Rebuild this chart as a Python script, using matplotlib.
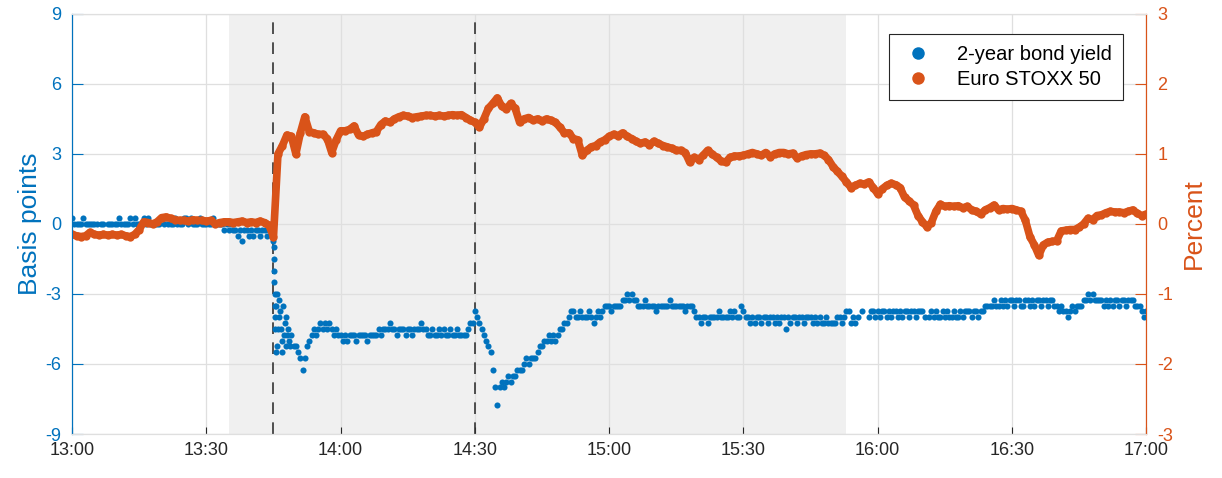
import numpy as np
import matplotlib
matplotlib.use("Agg")
import matplotlib.pyplot as plt
from matplotlib.lines import Line2D

plt.rcParams['font.family'] = ['Liberation Sans', 'DejaVu Sans']
plt.rcParams['axes.unicode_minus'] = False

# x axis: minutes after 13:00
tick_minutes = [0, 30, 60, 90, 120, 150, 180, 210, 240]
tick_labels = ["13:00", "13:30", "14:00", "14:30", "15:00", "15:30", "16:00", "16:30", "17:00"]
shade_start, shade_end = 35, 173
event_minutes = [45, 90]

nan = np.nan
# 2-year bond yield change, basis points, every 30 seconds from 13:00 to 17:00
bond_bp = [
    0.25, 0, 0, 0, 0, 0.25, 0, 0, 0, 0,                                   # 13:00
    0, 0, nan, 0, 0, nan, 0, 0, 0, 0,                                     # 13:05
    0, 0.25, 0, 0, 0, 0, 0.25, 0, 0.25, 0,                                # 13:10
    0, 0, 0.25, 0, 0.25, 0, 0, 0, 0, 0,                                   # 13:15
    0.25, 0, 0.25, 0, 0, 0, 0.25, 0, 0, 0,                                # 13:20
    0.25, 0.25, 0, 0.25, 0, 0, 0, 0.25, 0, 0,                             # 13:25
    0, 0, 0, 0.25, 0, 0, 0, 0, -0.25, 0,                                  # 13:30
    -0.25, 0, -0.25, -0.25, -0.5, -0.25, -0.75, -0.25, -0.25, -0.5,       # 13:35
    -0.25, -0.5, -0.25, -0.25, -0.5, -0.25, -0.25, -0.5, -0.25, -0.25,    # 13:40
    -0.75, -3.5, -4.5, -3.75, -5.0, -4.25, -4.75, -5.0, -4.75, -5.25,     # 13:45
    -5.25, -5.5, -5.75, -6.25, -5.75, -5.25, -5.0, -4.75, -4.5, -4.75,    # 13:50
    -4.5, -4.25, -4.5, -4.25, -4.5, -4.25, -4.5, -4.75, -4.5, -4.75,      # 13:55
    -4.75, -5.0, -4.75, -5.0, -4.75, -4.75, -4.75, -5.0, -4.75, -4.75,    # 14:00
    -4.75, -4.75, -5.0, -4.75, -4.75, -4.75, -4.75, -4.5, -4.75, -4.5,    # 14:05
    -4.5, -4.5, -4.25, -4.5, -4.5, -4.75, -4.5, -4.5, -4.5, -4.75,        # 14:10
    -4.5, -4.5, -4.75, -4.5, -4.5, -4.5, -4.25, -4.5, -4.5, -4.75,        # 14:15
    -4.75, -4.5, -4.75, -4.75, -4.5, -4.75, -4.5, -4.75, -4.75, -4.5,     # 14:20
    -4.75, -4.75, -4.5, -4.75, -4.75, -4.75, -4.75, -4.5, -4.25, -4.25,   # 14:25
    -3.75, -4.0, -4.25, -4.5, -4.75, -5.0, -5.25, -5.5, -6.25, -7.0,      # 14:30
    -7.75, -7.0, -6.75, -7.0, -6.75, -6.5, -6.75, -6.5, -6.5, -6.25,      # 14:35
    -6.25, -6.25, -6.0, -5.75, -6.0, -5.75, -5.75, -5.75, -5.5, -5.25,    # 14:40
    -5.25, -5.0, -5.0, -4.75, -5.0, -4.75, -5.0, -4.75, -4.5, -4.5,       # 14:45
    -4.25, -4.25, -4.0, -3.75, -3.75, -4.0, -4.0, -3.75, -4.0, -4.0,      # 14:50
    -4.0, -3.75, -4.0, -4.25, -4.0, -3.75, -4.0, -3.75, -3.5, -3.5,       # 14:55
    -3.5, -3.75, -3.5, -3.5, -3.5, -3.5, -3.25, -3.25, -3.0, -3.25,       # 15:00
    -3.0, -3.25, -3.25, -3.5, -3.5, -3.5, -3.25, -3.5, -3.5, -3.5,        # 15:05
    -3.5, -3.75, -3.5, -3.5, -3.5, -3.5, -3.5, -3.25, -3.5, -3.5,         # 15:10
    -3.5, -3.5, -3.5, -3.5, -3.75, -3.5, -3.5, -3.5, -3.75, -4.0,         # 15:15
    -4.0, -4.25, -4.0, -4.0, -4.25, -4.0, -4.0, -4.0, -4.0, -3.75,        # 15:20
    -4.0, -4.0, -4.0, -4.0, -3.75, -4.0, -3.75, -4.0, -4.0, -3.5,         # 15:25
    -3.75, -4.0, -4.0, -4.25, -4.0, -4.25, -4.0, -4.0, -4.25, -4.0,       # 15:30
    -4.0, -4.25, -4.0, -4.0, -4.25, -4.0, -4.25, -4.0, -4.0, -4.5,        # 15:35
    -4.0, -4.25, -4.0, -4.0, -4.25, -4.0, -4.0, -4.25, -4.0, -4.0,        # 15:40
    -4.0, -4.25, -4.0, -4.25, -4.0, -4.25, -4.25, -4.0, -4.25, -4.25,     # 15:45
    -4.25, -4.25, -4.0, -4.0, -4.25, -4.0, -3.75, -3.75, -4.25, -4.0,     # 15:50
    -4.25, -4.0, nan, -3.75, nan, nan, -4.0, -3.75, -3.75, -4.0,          # 15:55
    -3.75, -4.0, -3.75, -3.75, -4.0, -3.75, -4.0, -3.75, -3.75, -4.0,     # 16:00
    -3.75, -4.0, -3.75, -3.75, -4.0, -3.75, -3.75, -4.0, -3.75, -3.75,    # 16:05
    -3.75, -4.0, nan, -4.0, -3.75, -4.0, -3.75, -4.0, -4.0, -3.75,        # 16:10
    -4.0, -3.75, -4.0, -4.0, -3.75, -4.0, -4.0, -3.75, -4.0, -3.75,       # 16:15
    -3.75, -3.75, -4.0, -3.75, -3.75, -4.0, -3.75, -3.75, -3.5, -3.5,     # 16:20
    -3.5, -3.5, -3.25, -3.5, -3.5, -3.25, -3.5, -3.25, -3.5, -3.25,       # 16:25
    -3.25, -3.5, -3.25, -3.25, -3.5, -3.5, -3.25, -3.25, -3.5, -3.25,     # 16:30
    -3.5, -3.25, -3.25, -3.5, -3.25, -3.25, -3.5, -3.25, -3.25, -3.5,     # 16:35
    -3.5, -3.75, -3.5, -3.75, -3.75, -4.0, -3.75, -3.5, -3.75, -3.5,      # 16:40
    -3.5, -3.5, -3.25, -3.25, -3.0, -3.25, -3.0, -3.25, -3.25, -3.25,     # 16:45
    -3.25, -3.5, -3.25, -3.5, -3.25, -3.5, -3.25, -3.25, -3.5, -3.25,     # 16:50
    -3.25, -3.5, -3.25, -3.25, -3.25, -3.5, -3.5, -3.5, -3.75, -4.0,      # 16:55
    -3.75,                                                                # 17:00
]
bond_min = np.arange(len(bond_bp)) * 0.5

# extra quotes during the fast move right after 13:45
burst_min = [45.05, 45.1, 45.15, 45.2, 45.25, 45.3, 45.35, 45.4, 45.45, 45.7, 45.8,
             46.2, 46.3, 46.7, 46.8, 47.2, 47.3, 47.7, 47.8, 48.2, 48.7]
burst_bp = [-1.0, -1.5, -2.0, -2.5, -3.0, -3.5, -4.0, -4.5, -5.5, -3.0, -5.25,
            -3.25, -4.0, -4.5, -5.5, -3.5, -4.75, -4.0, -5.25, -4.5, -5.25]

# Euro STOXX 50 change, percent, every minute from 13:00 to 17:00
stoxx_pct = [
    -0.15, -0.17, -0.18, -0.17, -0.12, -0.15, -0.16, -0.15, -0.16, -0.15,   # 13:00
    -0.16, -0.15, -0.17, -0.18, -0.15, -0.08, 0.03, 0.02, 0.00, 0.03,       # 13:10
    0.09, 0.10, 0.08, 0.06, 0.05, 0.05, 0.04, 0.06, 0.05, 0.05,             # 13:20
    0.04, 0.05, 0.00, 0.02, 0.03, 0.03, 0.02, 0.03, 0.04, 0.02,             # 13:30
    0.03, 0.02, 0.04, 0.02, -0.02, -0.18, 1.00, 1.12, 1.27, 1.25,           # 13:40
    1.00, 1.30, 1.53, 1.32, 1.30, 1.28, 1.28, 1.22, 1.02, 1.20,             # 13:50
    1.33, 1.33, 1.35, 1.40, 1.27, 1.25, 1.28, 1.30, 1.32, 1.42,             # 14:00
    1.47, 1.45, 1.50, 1.53, 1.55, 1.54, 1.52, 1.53, 1.54, 1.55,             # 14:10
    1.55, 1.54, 1.55, 1.54, 1.55, 1.56, 1.55, 1.56, 1.52, 1.48,             # 14:20
    1.45, 1.38, 1.50, 1.65, 1.72, 1.80, 1.68, 1.64, 1.72, 1.65,             # 14:30
    1.45, 1.50, 1.52, 1.48, 1.50, 1.47, 1.50, 1.48, 1.45, 1.38,             # 14:40
    1.30, 1.30, 1.22, 1.20, 0.98, 1.05, 1.10, 1.12, 1.17, 1.20,             # 14:50
    1.25, 1.28, 1.26, 1.30, 1.25, 1.22, 1.18, 1.15, 1.17, 1.13,             # 15:00
    1.18, 1.15, 1.12, 1.10, 1.08, 1.05, 1.05, 1.02, 0.88, 0.95,             # 15:10
    0.92, 0.98, 1.05, 1.00, 0.95, 0.90, 0.88, 0.95, 0.97, 0.97,             # 15:20
    0.98, 1.00, 1.02, 1.00, 0.98, 1.02, 0.96, 1.00, 1.02, 1.02,             # 15:30
    1.00, 1.01, 0.94, 0.97, 0.99, 1.00, 1.00, 1.01, 0.98, 0.92,             # 15:40
    0.82, 0.75, 0.68, 0.60, 0.52, 0.55, 0.58, 0.57, 0.60, 0.52,             # 15:50
    0.43, 0.50, 0.55, 0.58, 0.56, 0.52, 0.38, 0.33, 0.27, 0.12,             # 16:00
    0.03, -0.04, 0.02, 0.18, 0.28, 0.25, 0.26, 0.25, 0.26, 0.23,            # 16:10
    0.25, 0.20, 0.18, 0.14, 0.20, 0.23, 0.27, 0.20, 0.22, 0.21,             # 16:20
    0.22, 0.20, 0.18, 0.05, -0.18, -0.30, -0.45, -0.30, -0.26, -0.25,       # 16:30
    -0.24, -0.10, -0.09, -0.08, -0.08, -0.05, 0.00, 0.08, 0.06, 0.12,       # 16:40
    0.13, 0.16, 0.18, 0.17, 0.17, 0.16, 0.18, 0.20, 0.15, 0.12,             # 16:50
    0.14,                                                                   # 17:00
]
stoxx_min = np.arange(len(stoxx_pct))

blue = "#0072BD"
orange = "#D95319"
grid_col = "#DFDFDF"
text_col = "#262626"

fig = plt.figure(figsize=(12.22, 4.78), dpi=100)
ax = fig.add_axes([0.059, 0.092, 0.879, 0.879])
ax2 = ax.twinx()

ax.axvspan(shade_start, shade_end, color="#F0F0F0", zorder=0, lw=0)
for m in event_minutes:
    ax.axvline(m, color="#333333", ls=(0, (7, 5)), lw=1.2, zorder=1)

ax.plot(bond_min, bond_bp, ls="none", marker="o", ms=4.4, color=blue, mew=0, zorder=3)
ax.plot(burst_min, burst_bp, ls="none", marker="o", ms=4.4, color=blue, mew=0, zorder=3)
ax2.plot(stoxx_min, stoxx_pct, color=orange, lw=5.5, marker="o", ms=6, mew=0,
         solid_joinstyle="round", solid_capstyle="round")

ax.set_xlim(0, 240)
ax.set_ylim(-9, 9)
ax2.set_ylim(-3, 3)
ax.set_xticks(tick_minutes)
ax.set_xticklabels(tick_labels)
ax.set_yticks(np.arange(-9, 10, 3))
ax2.set_yticks(np.arange(-3, 4, 1))

ax.grid(True, color=grid_col, lw=0.9)
ax.set_axisbelow(True)

ax.tick_params(axis="x", colors=text_col, labelsize=13, direction="in", length=5, pad=6)
ax.tick_params(axis="y", colors=blue, labelsize=13, direction="in", length=8, pad=8)
ax2.tick_params(axis="y", colors=orange, labelsize=13, direction="in", length=8, pad=8)
ax.tick_params(axis="x", which="both", top=False)

ax.set_ylabel("Basis points", color=blue, fontsize=19, labelpad=2)
ax2.set_ylabel("Percent", color=orange, fontsize=19, labelpad=6)

for a in (ax, ax2):
    a.spines["top"].set_color(grid_col)
    a.spines["bottom"].set_color(grid_col)
ax.spines["left"].set_color(blue)
ax2.spines["left"].set_color(blue)
ax2.spines["right"].set_color(orange)
ax.spines["right"].set_color(orange)

handles = [
    Line2D([], [], ls="none", marker="o", ms=9, color=blue, mew=0),
    Line2D([], [], ls="none", marker="o", ms=9, color=orange, mew=0),
]
leg = ax2.legend(handles, ["2-year bond yield", "Euro STOXX 50"], loc="upper right",
                 bbox_to_anchor=(0.978, 0.952), fontsize=14.5, fancybox=False,
                 framealpha=1, edgecolor="#262626", borderpad=0.55, handlelength=1.8,
                 handletextpad=1.0, labelspacing=0.3, borderaxespad=0)
leg.get_frame().set_linewidth(0.8)

fig.savefig("out.png", dpi=100)
